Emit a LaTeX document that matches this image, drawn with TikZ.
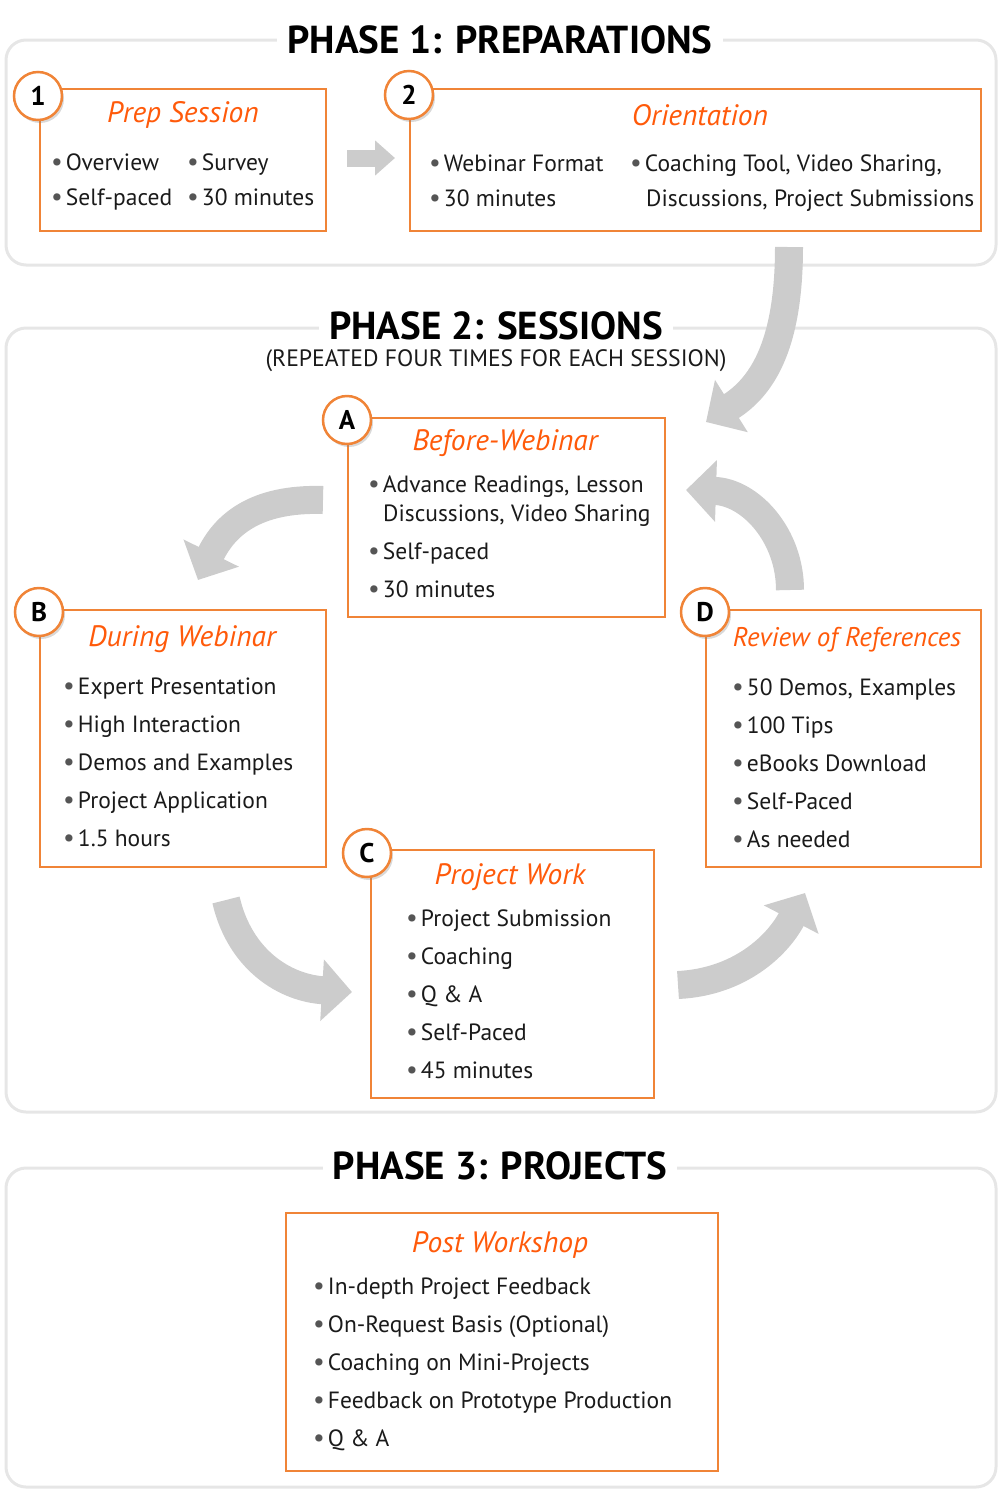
\documentclass[tikz,border=0pt]{standalone}
\usepackage{fontspec}
\setmainfont{PT Sans}
\usetikzlibrary{arrows.meta,shadows}
\definecolor{framec}{HTML}{E6E6E6}
\definecolor{obox}{HTML}{F08437}
\definecolor{otitle}{HTML}{FF5A0A}
\definecolor{arr}{HTML}{CCCCCC}
\definecolor{bul}{HTML}{555555}
\definecolor{txt}{HTML}{1A1A1A}
\tikzset{
 phaseframe/.style={draw=framec, line width=3pt, rounded corners=20pt},
 phasetitle/.style={fill=white, inner xsep=10pt, inner ysep=2pt, font=\fontsize{39}{39}\selectfont\bfseries},
 box/.style={draw=obox, line width=2pt, anchor=north west, inner sep=0pt},
 badge/.style={circle, draw=obox, line width=2.5pt, fill=white, minimum size=48pt, inner sep=0pt, font=\fontsize{27}{27}\selectfont\bfseries, drop shadow={opacity=0.3, shadow xshift=2pt, shadow yshift=-3pt}},
 htitle/.style={text=otitle, inner sep=0pt, font=\fontsize{29.5}{29.5}\selectfont\itshape},
 item/.style={anchor=base west, inner sep=0pt, text=txt, font=\fontsize{23.5}{23.5}\selectfont},
 bigarrow/.style={draw=arr, line width=28pt, -{Triangle[length=30pt, width=60pt]}},
}
\newcommand\bl{{\textcolor{bul}{\fontsize{26}{26}\selectfont•}}\hspace{3pt}}
\begin{document}
\begin{tikzpicture}[x=1pt,y=-1pt]
\useasboundingbox (0,0) rectangle (1000,1500);
% ---------- Phase frames
\draw[phaseframe] (6,40) rectangle (996,265);
\node[phasetitle] (p1) at (500,40) {PHASE 1: PREPARATIONS};
\draw[phaseframe] (6,328) rectangle (996,1112);
\node[phasetitle] (p2) at (496,326) {PHASE 2: SESSIONS};
\node[inner sep=0pt, font=\fontsize{23.7}{23.7}\selectfont, text=txt] (p2sub) at (496,361) {(REPEATED FOUR TIMES FOR EACH SESSION)};
\draw[phaseframe] (6,1168) rectangle (996,1487);
\node[phasetitle] (p3) at (500,1166) {PHASE 3: PROJECTS};

% ---------- Phase 1 boxes
\node[box, minimum width=286pt, minimum height=142pt] (b1) at (39,88) {};
\node[htitle] (t1) at (183,115) {Prep Session};
\node[item] (i11) at (51,170) {\bl Overview};
\node[item] (i12) at (187,170) {\bl Survey};
\node[item] (i13) at (51,205) {\bl Self-paced};
\node[item] (i14) at (187,205) {\bl 30 minutes};
\node[badge] (n1) at (38,96) {1};

\node[box, minimum width=571pt, minimum height=142pt] (b2) at (409,88) {};
\node[htitle] (t2) at (700,115) {Orientation};
\node[item] (i21) at (429,171) {\bl Webinar Format};
\node[item] (i22) at (429,206) {\bl 30 minutes};
\node[item] (i23) at (630,171) {\bl Coaching Tool, Video Sharing,};
\node[item] (i24) at (646,206) {Discussions, Project Submissions};
\node[badge] (n2) at (409,95) {2};

\coordinate (s12) at (347,158);
\coordinate (e12) at (395,158);
\draw[draw=arr, line width=17pt, -{Triangle[length=20pt, width=34pt]}] (s12) -- (e12);

% ---------- Phase 2 boxes
\node[box, minimum width=317pt, minimum height=199pt] (bA) at (347,417) {};
\node[htitle] (tA) at (505,443) {Before-Webinar};
\node[item] (iA1) at (368,492) {\bl Advance Readings, Lesson};
\node[item] (iA2) at (383,521) {Discussions, Video Sharing};
\node[item] (iA3) at (368,559) {\bl Self-paced};
\node[item] (iA4) at (368,597) {\bl 30 minutes};
\node[badge] (nA) at (347,420) {A};

\node[box, minimum width=286pt, minimum height=257pt] (bB) at (39,609) {};
\node[htitle] (tB) at (182,639) {During Webinar};
\node[item] (iB1) at (63,694) {\bl Expert Presentation};
\node[item] (iB2) at (63,732) {\bl High Interaction};
\node[item] (iB3) at (63,770) {\bl Demos and Examples};
\node[item] (iB4) at (63,808) {\bl Project Application};
\node[item] (iB5) at (63,846) {\bl 1.5 hours};
\node[badge] (nB) at (39,612) {B};

\node[box, minimum width=283pt, minimum height=248pt] (bC) at (370,849) {};
\node[htitle] (tC) at (510,877) {Project Work};
\node[item] (iC1) at (406,926) {\bl Project Submission};
\node[item] (iC2) at (406,964) {\bl Coaching};
\node[item] (iC3) at (406,1002) {\bl Q \& A};
\node[item] (iC4) at (406,1040) {\bl Self-Paced};
\node[item] (iC5) at (406,1078) {\bl 45 minutes};
\node[badge] (nC) at (367,853) {C};

\node[box, minimum width=275pt, minimum height=257pt] (bD) at (705,609) {};
\node[htitle, font=\fontsize{27}{27}\selectfont\itshape] (tD) at (847,640) {Review of References};
\node[item] (iD1) at (732,695) {\bl 50 Demos, Examples};
\node[item] (iD2) at (732,733) {\bl 100 Tips};
\node[item] (iD3) at (732,771) {\bl eBooks Download};
\node[item] (iD4) at (732,809) {\bl Self-Paced};
\node[item] (iD5) at (732,847) {\bl As needed};
\node[badge] (nD) at (705,612) {D};

% ---------- Phase 3 box
\node[box, minimum width=432pt, minimum height=258pt] (bP) at (285,1212) {};
\node[htitle] (tP) at (500,1245) {Post Workshop};
\node[item] (iP1) at (313,1294) {\bl In-depth Project Feedback};
\node[item] (iP2) at (313,1332) {\bl On-Request Basis (Optional)};
\node[item] (iP3) at (313,1370) {\bl Coaching on Mini-Projects};
\node[item] (iP4) at (313,1408) {\bl Feedback on Prototype Production};
\node[item] (iP5) at (313,1446) {\bl Q \& A};

% ---------- Big curved arrows
\coordinate (s2A) at (789,247);
\coordinate (e2A) at (706,422);
\draw[bigarrow] (s2A) .. controls (789,340) and (765,385) .. (e2A);

\coordinate (sAB) at (323,500);
\coordinate (eAB) at (198,580);
\draw[bigarrow] (sAB) .. controls (255,498) and (225,525) .. (eAB);

\coordinate (sBC) at (226,900);
\coordinate (eBC) at (352,992);
\draw[bigarrow] (sBC) .. controls (240,960) and (285,988) .. (eBC);

\coordinate (sCD) at (678,985);
\coordinate (eCD) at (805,893);
\draw[bigarrow] (sCD) .. controls (740,982) and (778,945) .. (eCD);

\coordinate (sDA) at (790,590);
\coordinate (eDA) at (686,490);
\draw[bigarrow] (sDA) .. controls (790,535) and (750,492) .. (eDA);
\end{tikzpicture}
\end{document}
